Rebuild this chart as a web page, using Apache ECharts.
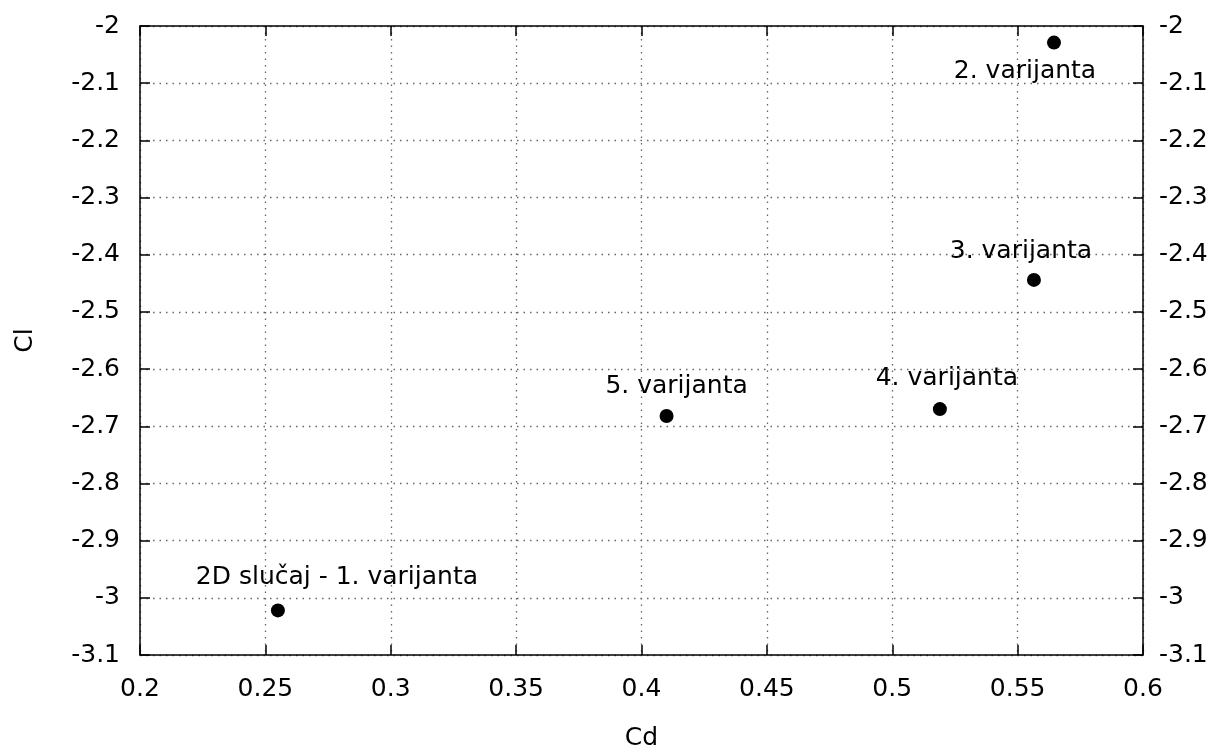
<!DOCTYPE html>
<html>
<head>
<meta charset="utf-8">
<script src="https://cdn.jsdelivr.net/npm/echarts@6/dist/echarts.min.js"></script>
<style>
html,body{margin:0;padding:0;background:#fff;}
#main{width:1214px;height:756px;}
</style>
</head>
<body>
<div id="main"></div>
<script>
// Data
var names = ['2D slučaj - 1. varijanta', '5. varijanta', '4. varijanta', '3. varijanta', '2. varijanta'];
var cd = [0.255, 0.410, 0.519, 0.5565, 0.5645];
var cl = [-3.022, -2.682, -2.670, -2.444, -2.029];
var xTitle = 'Cd';
var yTitle = 'Cl';

// label offsets (styling)
var labelOffsets = [[59, -33], [10, -29], [7, -31], [-13, -28], [-29, 29]];

var FONT = 'DejaVu Sans';
var FS = 25;
var chart = echarts.init(document.getElementById('main'));

var points = cd.map(function (x, i) {
  return {
    value: [x, cl[i]],
    name: names[i],
    label: {
      show: true,
      formatter: names[i],
      position: 'inside',
      offset: labelOffsets[i],
      color: '#000',
      opacity: 1,
      fontFamily: FONT,
      fontSize: FS
    }
  };
});

var axisLine = { show: true, onZero: false, lineStyle: { color: '#000', width: 1.5 } };
var gridLine = { show: true, lineStyle: { color: '#666', type: [1.5, 5], width: 1.3 } };

var option = {
  animation: false,
  backgroundColor: '#fff',
  grid: { left: 140, right: 71, top: 26, bottom: 97, containLabel: false },
  xAxis: [
    {
      type: 'value', min: 0.2, max: 0.6, interval: 0.05, position: 'bottom',
      name: xTitle, nameLocation: 'middle', nameGap: 71,
      nameTextStyle: { fontFamily: FONT, fontSize: FS, color: '#000' },
      axisLine: axisLine,
      axisTick: { show: true, inside: true, length: 10, lineStyle: { color: '#000', width: 1.5 } },
      axisLabel: { fontFamily: FONT, fontSize: FS, color: '#000', margin: 22,
        formatter: function (v) { return String(+v.toFixed(2)); } },
      splitLine: gridLine
    },
    {
      type: 'value', min: 0.2, max: 0.6, interval: 0.05, position: 'top',
      axisLine: axisLine,
      axisTick: { show: true, inside: true, length: 10, lineStyle: { color: '#000', width: 1.5 } },
      axisLabel: { show: false },
      splitLine: { show: false }
    }
  ],
  yAxis: [
    {
      type: 'value', min: -3.1, max: -2, interval: 0.1, position: 'left',
      name: yTitle, nameLocation: 'middle', nameGap: 102, nameRotate: 90,
      nameTextStyle: { fontFamily: FONT, fontSize: FS, color: '#000' },
      axisLine: axisLine,
      axisTick: { show: true, inside: true, length: 10, lineStyle: { color: '#000', width: 1.5 } },
      axisLabel: { fontFamily: FONT, fontSize: FS, color: '#000', margin: 20,
        formatter: function (v) { return String(+v.toFixed(1)); } },
      splitLine: gridLine
    },
    {
      type: 'value', min: -3.1, max: -2, interval: 0.1, position: 'right',
      axisLine: axisLine,
      axisTick: { show: true, inside: true, length: 10, lineStyle: { color: '#000', width: 1.5 } },
      axisLabel: { fontFamily: FONT, fontSize: FS, color: '#000', margin: 16,
        formatter: function (v) { return String(+v.toFixed(1)); } },
      splitLine: { show: false }
    }
  ],
  series: [
    {
      type: 'scatter',
      xAxisIndex: 0, yAxisIndex: 0,
      symbol: 'circle', symbolSize: 14,
      itemStyle: { color: '#000', opacity: 1 },
      data: points
    }
  ]
};
chart.setOption(option);
</script>
</body>
</html>
